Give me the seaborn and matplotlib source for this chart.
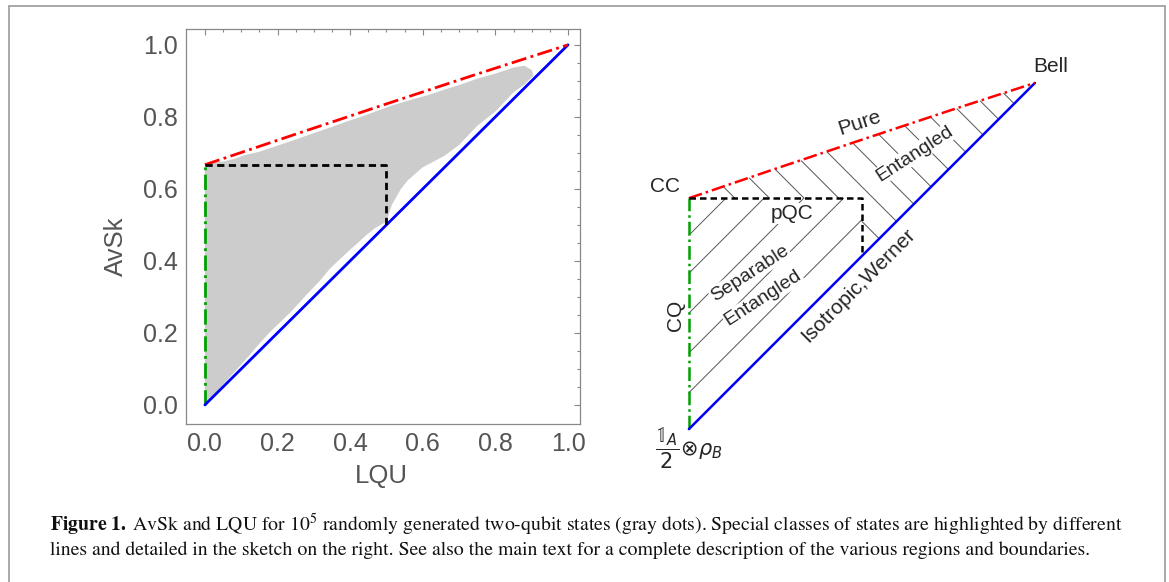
"""
AvSk versus LQU for random two-qubit states, with the region sketch on the right.

Output:
    out.png
"""

import matplotlib.pyplot as plt
import numpy as np
import seaborn as sns
from matplotlib.patches import Rectangle

FIG_W, FIG_H = 1169, 582

# Boundaries of the AvSk / LQU plane (left panel)
PURE_LQU = [0.0, 0.25, 0.5, 0.75, 1.0]
PURE_AVSK = [0.667, 0.752, 0.836, 0.919, 1.0]
WERNER_LQU = [0.0, 1.0]
WERNER_AVSK = [0.0, 1.0]
CQ_LQU = [0.0, 0.0]
CQ_AVSK = [0.0, 0.667]
PQC_LQU = [0.0, 0.5, 0.5]
PQC_AVSK = [0.667, 0.667, 0.5]

CLOUD_LQU = [
    0.0, 0.0, 0.02, 0.05, 0.08, 0.11, 0.15, 0.20, 0.25, 0.30, 0.35, 0.39,
    0.43, 0.47, 0.52, 0.57, 0.62, 0.66, 0.70, 0.75, 0.80, 0.85, 0.88, 0.90,
    0.905, 0.88, 0.85, 0.80, 0.75, 0.70, 0.66, 0.60, 0.56, 0.54, 0.515, 0.50,
    0.47, 0.445, 0.42, 0.39, 0.344, 0.317, 0.28, 0.243, 0.21, 0.179, 0.15,
    0.124, 0.08, 0.04, 0.014,
]
CLOUD_AVSK = [
    0.0, 0.667, 0.672, 0.676, 0.683, 0.694, 0.703, 0.720, 0.737, 0.755, 0.772,
    0.787, 0.800, 0.815, 0.833, 0.848, 0.862, 0.876, 0.888, 0.906, 0.920,
    0.937, 0.942, 0.930, 0.915, 0.890, 0.868, 0.815, 0.775, 0.722, 0.692,
    0.660, 0.625, 0.600, 0.556, 0.509, 0.492, 0.472, 0.449, 0.422, 0.378,
    0.345, 0.306, 0.265, 0.232, 0.202, 0.170, 0.139, 0.090, 0.046, 0.014,
]

TICKS = [0.0, 0.2, 0.4, 0.6, 0.8, 1.0]
TICK_LABELS = ["0.0", "0.2", "0.4", "0.6", "0.8", "1.0"]

# Hatching of the sketch: "\" lines x + y = c (entangled), "/" lines y - x = d (pQC)
ENTANGLED_HATCH = [0.8, 0.9, 1.0, 1.1, 1.2, 1.3, 1.4, 1.5, 1.6, 1.7, 1.79, 1.88]
PQC_HATCH = [0.56, 0.45, 0.335, 0.22, 0.105]

RED = "#ff0000"
BLUE = "#0000ff"
GREEN = "#00a000"
CLOUD_GRAY = "#cccccc"
AXIS_GRAY = "#888888"
LABEL_GRAY = "#555555"

DASHDOT = (0, (5.5, 1.6, 1.0, 1.6))
DASHED = (0, (2.6, 1.6))

CAPTION_1 = (r"$\mathbf{Figure\ 1.}\;$AvSk and LQU for $10^5$ randomly generated two-qubit "
             r"states (gray dots). Special classes of states are highlighted by different")
CAPTION_2 = ("lines and detailed in the sketch on the right. See also the main text for a "
             "complete description of the various regions and boundaries.")


def px_rect(left, top, right, bottom):
    """Figure-fraction rectangle from pixel edges measured top-down."""
    return [left / FIG_W, 1 - bottom / FIG_H, (right - left) / FIG_W, (bottom - top) / FIG_H]


def draw_boundaries(ax, lw):
    ax.plot(CQ_LQU, CQ_AVSK, color=GREEN, lw=lw, ls=DASHDOT, solid_capstyle="butt")
    ax.plot(WERNER_LQU, WERNER_AVSK, color=BLUE, lw=lw)
    ax.plot(PURE_LQU, PURE_AVSK, color=RED, lw=lw, ls=DASHDOT)
    ax.plot(PQC_LQU, PQC_AVSK, color="black", lw=lw, ls=DASHED)


def plot_cloud(ax):
    ax.fill(CLOUD_LQU, CLOUD_AVSK, color=CLOUD_GRAY, lw=0)
    draw_boundaries(ax, lw=2.0)

    ax.set_xlim(-0.052, 1.033)
    ax.set_ylim(-0.053, 1.044)
    ax.set_xticks(TICKS, TICK_LABELS)
    ax.set_yticks(TICKS, TICK_LABELS)
    ax.set_xticks(np.arange(0, 1.01, 0.05), minor=True)
    ax.set_yticks(np.arange(0, 1.01, 0.05), minor=True)
    ax.tick_params(which="both", direction="in", top=True, right=True,
                   color=AXIS_GRAY, width=0.8, labelcolor=LABEL_GRAY, labelsize=18)
    ax.tick_params(which="major", length=4.5, pad=6)
    ax.tick_params(which="minor", length=2.5)
    for spine in ax.spines.values():
        spine.set_visible(True)
        spine.set_color(AXIS_GRAY)
        spine.set_linewidth(0.9)

    ax.set_xlabel("LQU", fontsize=18.5, color=LABEL_GRAY)
    ax.set_ylabel("AvSk", fontsize=18.5, color=LABEL_GRAY)
    ax.xaxis.set_label_coords(0.497, -0.10)
    ax.yaxis.set_label_coords(-0.148, 0.45)


def hatch_segments():
    """Clip the hatch lines to the regions of the sketch."""
    segments = []
    top, corner = 0.667, 0.5
    for c in ENTANGLED_HATCH:
        x_red = (c - top) * 0.75
        x_blue = c / 2
        if x_blue <= corner:
            segments.append(([x_red, c - top], [c - x_red, top]))
        elif c - top <= corner:
            segments.append(([x_red, c - top], [c - x_red, top]))
            segments.append(([corner, x_blue], [c - corner, x_blue]))
        else:
            segments.append(([x_red, x_blue], [c - x_red, x_blue]))
    for d in PQC_HATCH:
        x_end = min(top - d, corner)
        segments.append(([0.0, x_end], [d, x_end + d]))
    return segments


def plot_sketch(ax):
    for xs, ys in hatch_segments():
        ax.plot(xs, ys, color="#555555", lw=0.7)
    draw_boundaries(ax, lw=1.8)

    ax.set_xlim(-0.199, 1.188)
    ax.set_ylim(-0.147, 1.124)
    ax.set_axis_off()

    white = dict(facecolor="white", edgecolor="none", pad=0.5)
    common = dict(fontsize=15, ha="center", va="center", rotation_mode="anchor")
    ax.text(1.045, 1.047, "Bell", **common)
    ax.text(0.494, 0.884, "Pure", rotation=18, **common)
    ax.text(-0.069, 0.700, "CC", **common)
    ax.text(0.297, 0.623, "pQC", bbox=white, **common)
    ax.text(0.176, 0.450, "Separable", rotation=33, fontsize=14,
            ha="center", va="center", rotation_mode="anchor", bbox=white)
    ax.text(0.215, 0.378, "Entangled", rotation=33, fontsize=14,
            ha="center", va="center", rotation_mode="anchor", bbox=white)
    ax.text(0.653, 0.795, "Entangled", rotation=33, fontsize=14,
            ha="center", va="center", rotation_mode="anchor", bbox=white)
    ax.text(0.489, 0.414, "Isotropic,Werner", rotation=45, **common)
    ax.text(-0.040, 0.329, "CQ", rotation=90, **common)
    ax.text(-0.097, -0.055, r"$\dfrac{\mathbb{1}_A}{2}\!\otimes\!\rho_B$", fontsize=15,
            ha="left", va="center")


def main():
    sns.set_theme(style="white")
    plt.rcParams["font.family"] = ["Liberation Sans", "DejaVu Sans"]

    fig = plt.figure(figsize=(FIG_W / 100, FIG_H / 100), dpi=100)
    fig.patches.append(Rectangle((9 / FIG_W, -0.05), 1156 / FIG_W, 1.05 - 6 / FIG_H,
                                 transform=fig.transFigure, fill=False,
                                 edgecolor="#999999", lw=1.2))

    ax_cloud = fig.add_axes(px_rect(186, 29, 580, 424))
    plot_cloud(ax_cloud)

    ax_sketch = fig.add_axes(px_rect(620, 40, 1100, 480))
    plot_sketch(ax_sketch)

    caption = dict(fontsize=14.2, family="STIXGeneral", math_fontfamily="stix",
                   color="#111111", ha="left", va="baseline")
    fig.text(50 / FIG_W, 1 - 531 / FIG_H, CAPTION_1, **caption)
    fig.text(50 / FIG_W, 1 - 555 / FIG_H, CAPTION_2, **caption)

    fig.savefig("out.png", dpi=100)


if __name__ == "__main__":
    main()
